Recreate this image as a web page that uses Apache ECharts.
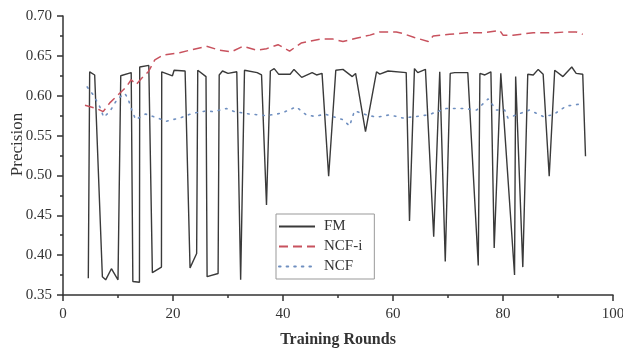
<!DOCTYPE html>
<html>
<head>
<meta charset="utf-8">
<script src="https://cdn.jsdelivr.net/npm/echarts@6/dist/echarts.min.js"></script>
<style>
  html, body { margin: 0; padding: 0; background: #fff; }
  #chart { width: 623px; height: 349px; }
</style>
</head>
<body>
<div id="chart"></div>
<script>
// FM (solid black)
const fmX = [4.6, 4.85, 5.76, 7.16, 7.76, 8.8, 10.0, 10.5, 12.4, 12.7, 13.9, 13.95, 15.6, 16.25, 17.9, 17.95,
  19.9, 20.2, 22.2, 23.1, 24.3, 24.5, 26.0, 26.2, 28.2, 28.4, 29.0, 30.0, 31.6, 32.3, 33.0, 35.3, 36.1, 37.0,
  37.7, 38.4, 39.2, 41.3, 42.0, 43.4, 45.3, 46.1, 47.1, 48.3, 49.6, 50.9, 52.6, 53.2, 55.0, 57.0, 57.6, 59.1,
  62.4, 63.0, 63.9, 64.5, 65.9, 67.4, 68.5, 69.5, 70.4, 71.2, 73.6, 75.5, 75.8, 76.7, 77.8, 78.4, 79.6, 82.1,
  82.3, 83.6, 84.5, 85.5, 86.4, 87.3, 88.4, 89.4, 90.9, 92.5, 93.3, 94.5, 95.0]
const fmY = [0.371, 0.630, 0.626, 0.373, 0.369, 0.383, 0.369, 0.625, 0.629, 0.367, 0.366, 0.636, 0.638, 0.378, 0.385, 0.630,
  0.625, 0.632, 0.631, 0.384, 0.402, 0.632, 0.624, 0.373, 0.377, 0.626, 0.631, 0.628, 0.630, 0.369, 0.632, 0.629, 0.626, 0.463,
  0.631, 0.634, 0.627, 0.627, 0.633, 0.623, 0.629, 0.626, 0.628, 0.499, 0.632, 0.633, 0.624, 0.628, 0.555, 0.630, 0.627, 0.631,
  0.629, 0.443, 0.634, 0.629, 0.633, 0.423, 0.630, 0.392, 0.628, 0.629, 0.629, 0.387, 0.628, 0.626, 0.630, 0.409, 0.628, 0.375,
  0.624, 0.385, 0.627, 0.626, 0.633, 0.627, 0.499, 0.632, 0.624, 0.636, 0.628, 0.627, 0.524]

// NCF-i (red dashed)
const ncfiX = [4.0, 6.1, 7.3, 8.5, 10.0, 11.5, 12.4, 13.3, 14.3, 15.5, 16.7, 18.2, 21.2, 23.6, 26.1, 28.5, 30.6,
  32.7, 35.2, 37.0, 39.1, 41.2, 43.3, 46.7, 49.1, 50.9, 53.3, 55.8, 57.6, 60.6, 61.8, 63.9, 66.4, 67.3, 70.3,
  73.3, 76.4, 79.4, 80.0, 81.8, 85.5, 89.1, 91.5, 93.3, 94.5]
const ncfiY = [0.588, 0.584, 0.580, 0.591, 0.601, 0.611, 0.620, 0.614, 0.622, 0.630, 0.645, 0.651, 0.654, 0.658, 0.662, 0.657, 0.655,
  0.662, 0.657, 0.659, 0.664, 0.656, 0.666, 0.671, 0.671, 0.668, 0.672, 0.676, 0.680, 0.680, 0.678, 0.673, 0.668, 0.675, 0.677,
  0.679, 0.679, 0.682, 0.676, 0.676, 0.679, 0.679, 0.680, 0.680, 0.677]

// NCF (blue dotted)
const ncfX = [4.4, 5.5, 6.7, 7.4, 8.5, 9.8, 11.2, 11.8, 12.3, 13.2, 15.0, 16.4, 18.8, 21.2, 23.6, 26.1, 27.3, 29.7,
  31.2, 33.9, 37.0, 39.7, 42.4, 44.2, 45.8, 47.6, 50.9, 52.1, 53.0, 55.2, 57.0, 59.4, 61.8, 64.3, 66.4, 69.7,
  72.7, 75.2, 77.3, 78.8, 80.3, 80.9, 82.4, 84.8, 87.3, 89.1, 91.5, 94.5]
const ncfY = [0.611, 0.601, 0.586, 0.573, 0.580, 0.595, 0.603, 0.597, 0.586, 0.570, 0.577, 0.574, 0.568, 0.572, 0.578, 0.581, 0.580, 0.584,
  0.580, 0.577, 0.575, 0.578, 0.586, 0.576, 0.574, 0.577, 0.570, 0.562, 0.581, 0.576, 0.573, 0.576, 0.572, 0.574, 0.576, 0.584,
  0.584, 0.582, 0.596, 0.582, 0.582, 0.572, 0.576, 0.582, 0.574, 0.576, 0.587, 0.590]

const xTicks = [0, 20, 40, 60, 80, 100]
const yTicks = [0.35, 0.40, 0.45, 0.50, 0.55, 0.60, 0.65, 0.70]

const pairs = (xs, ys) => xs.map((x, i) => [x, ys[i]])

const serif = '"Liberation Serif", "DejaVu Serif", serif'
const axisColor = '#333'

const chart = echarts.init(document.getElementById('chart'))

const option = {
  animation: false,
  grid: { left: 63, right: 10, top: 16, bottom: 54, containLabel: false, outerBoundsMode: 'none' },
  legend: {
    orient: 'vertical',
    left: 276,
    top: 214,
    itemWidth: 36,
    itemHeight: 10,
    itemGap: 5,
    padding: [5, 12, 5, 2],
    borderColor: '#999',
    borderWidth: 1,
    itemStyle: { opacity: 0 },
    textStyle: { fontFamily: serif, fontSize: 15, color: '#333', padding: [0, 0, 0, 4] },
    data: ['FM', 'NCF-i', 'NCF'],
  },
  xAxis: {
    type: 'value',
    min: xTicks[0],
    max: xTicks[xTicks.length - 1],
    interval: 20,
    name: 'Training Rounds',
    nameLocation: 'middle',
    nameGap: 37,
    nameMoveOverlap: false,
    nameTextStyle: { fontFamily: serif, fontSize: 16, fontWeight: 'bold', color: '#333' },
    axisLine: { lineStyle: { color: axisColor, width: 1.5 } },
    axisTick: { inside: false, length: 6, lineStyle: { color: axisColor, width: 1.5 } },
    minorTick: { show: true, splitNumber: 2, length: 3, lineStyle: { color: axisColor, width: 1.5 } },
    axisLabel: { fontFamily: serif, fontSize: 15, color: '#333', margin: 12 },
    splitLine: { show: false },
  },
  yAxis: {
    type: 'value',
    min: yTicks[0],
    max: yTicks[yTicks.length - 1],
    interval: 0.05,
    name: 'Precision',
    nameLocation: 'middle',
    nameGap: 37,
    nameMoveOverlap: false,
    nameTextStyle: { fontFamily: serif, fontSize: 17, color: '#333', padding: [0, 0, 0, 22] },
    axisLine: { show: true, lineStyle: { color: axisColor, width: 1.5 } },
    axisTick: { show: true, inside: false, length: 6, lineStyle: { color: axisColor, width: 1.5 } },
    minorTick: { show: true, splitNumber: 2, length: 3, lineStyle: { color: axisColor, width: 1.5 } },
    axisLabel: {
      fontFamily: serif, fontSize: 15, color: '#333', margin: 11,
      formatter: (v) => v.toFixed(2),
    },
    splitLine: { show: false },
  },
  series: [
    {
      name: 'FM',
      type: 'line',
      data: pairs(fmX, fmY),
      symbol: 'none',
      lineStyle: { color: '#3a3a3a', width: 1.4 },
      itemStyle: { color: '#3a3a3a' },
    },
    {
      name: 'NCF-i',
      type: 'line',
      data: pairs(ncfiX, ncfiY),
      symbol: 'none',
      lineStyle: { color: '#c8525e', width: 1.5, type: [9, 5] },
      itemStyle: { color: '#c8525e' },
    },
    {
      name: 'NCF',
      type: 'line',
      data: pairs(ncfX, ncfY),
      symbol: 'none',
      lineStyle: { color: '#6f8fc0', width: 1.6, type: [1.6, 6], cap: 'round' },
      itemStyle: { color: '#6f8fc0' },
    },
  ],
}

chart.setOption(option)
</script>
</body>
</html>
